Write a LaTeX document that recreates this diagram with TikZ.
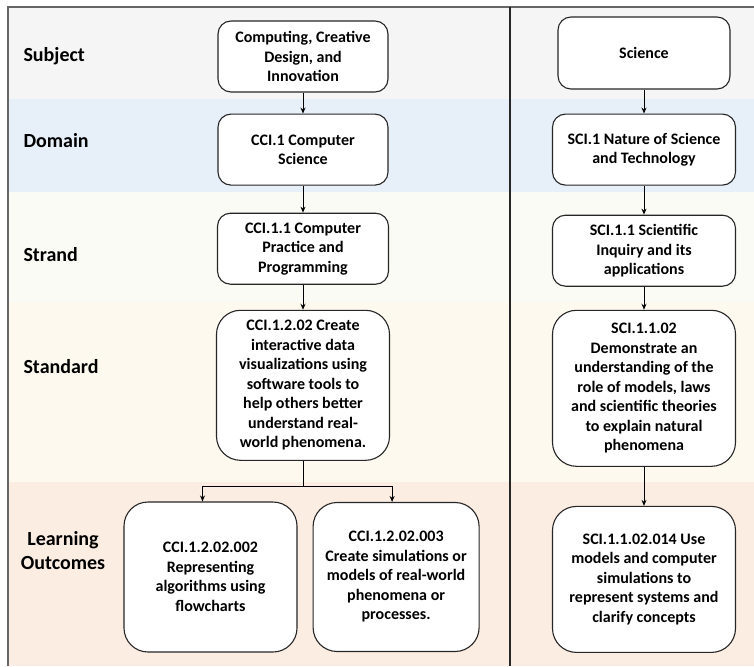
\documentclass[tikz,border=0pt]{standalone}
\usepackage{fontspec}
\setmainfont{Carlito}
\usetikzlibrary{positioning}
\usetikzlibrary{arrows.meta}

\definecolor{subjfill}{HTML}{F5F5F5}
\definecolor{domfill}{HTML}{E7EFF9}
\definecolor{strfill}{HTML}{F9FBF4}
\definecolor{stdfill}{HTML}{FEF9EE}
\definecolor{lofill}{HTML}{FCEDE3}

\begin{document}
\begin{tikzpicture}[x=1pt,y=-1pt,align=center,font=\bfseries\fontsize{16}{19.5}\selectfont,
		box/.style={rectangle,rounded corners=13pt,draw=black!85,line width=1.1pt,fill=white,inner sep=2pt},
		bigbox/.style={box,rounded corners=24pt},
		rowlabel/.style={font=\bfseries\fontsize{20}{24}\selectfont},
		arr/.style={line width=0.9pt,-{Stealth[length=6pt,width=5pt]}}]
		\useasboundingbox (0,0) rectangle (754,666);
		% bands
		\fill[subjfill] (8,7) rectangle (754,99);
		\fill[domfill] (8,99) rectangle (754,192);
		\fill[strfill] (8,192) rectangle (754,302);
		\fill[stdfill] (8,302) rectangle (754,482);
		\fill[lofill] (8,482) rectangle (754,666);
		\draw[black!60,line width=1.2pt] (8,666) -- (8,7) -- (754,7);
		\draw[black!85,line width=1.2pt] (510,7) -- (510,666);
		\node[rowlabel,anchor=west] (lsubj) at (20,56){Subject};
		\node[rowlabel,anchor=west] (ldom) at (20,141){Domain};
		\node[rowlabel,anchor=west] (lstr) at (20,255){Strand};
		\node[rowlabel,anchor=west] (lstd) at (20,367){Standard};
		\node[rowlabel] (llo) at (63,551){Learning\\Outcomes};
		% left column
		\node[box,minimum width=170pt,minimum height=71pt] (subj) at (303,56.5){Computing, Creative\\Design, and\\Innovation};
		\node[box,minimum width=170pt,minimum height=71pt] (dom)[below = 21pt of subj]{CCI.1 Computer\\Science};
		\node[box,minimum width=171pt,minimum height=71pt] (str)[below = 27pt of dom]{CCI.1.1 Computer\\Practice and\\Programming};
		\node[bigbox,minimum width=173pt,minimum height=150pt] (std)[below = 25pt of str]{CCI.1.2.02 Create\\interactive data\\visualizations using\\software tools to\\help others better\\understand real-\\world phenomena.};
		\node[bigbox,minimum width=173pt,minimum height=150pt] (loa) at (210.5,577){CCI.1.2.02.002\\Representing\\algorithms using\\flowcharts};
		\node[bigbox,minimum width=166pt,minimum height=149pt] (lob)[right = 15pt of loa]{CCI.1.2.02.003\\Create simulations or\\models of real-world\\phenomena or\\processes.};
		% right column
		\node[box,minimum width=172pt,minimum height=72pt] (sci) at (644,53){Science};
		\node[box,minimum width=183pt,minimum height=71pt] (sdom)[below = 24pt of sci]{SCI.1 Nature of Science\\and Technology};
		\node[box,minimum width=183pt,minimum height=71pt] (sstr)[below = 29pt of sdom]{SCI.1.1 Scientific\\Inquiry and its\\applications};
		\node[bigbox,minimum width=183pt,minimum height=156pt] (sstd)[below = 23pt of sstr]{SCI.1.1.02\\Demonstrate an\\understanding of the\\role of models, laws\\and scientific theories\\to explain natural\\phenomena};
		\node[bigbox,minimum width=183pt,minimum height=146pt] (slo)[below = 39pt of sstd]{SCI.1.1.02.014 Use\\models and computer\\simulations to\\represent systems and\\clarify concepts};
		\draw[arr] (subj) -- (dom);
		\draw[arr] (dom) -- (str);
		\draw[arr] (str) -- (std);
		\coordinate (split) at ([yshift=-26pt]std.south);
		\draw[line width=0.9pt] (std.south) -- (split);
		\draw[arr] (split) -| ([xshift=-8pt]loa.north);
		\draw[arr] (split) -| ([xshift=-4pt]lob.north);
		\draw[arr] (sci) -- (sdom);
		\draw[arr] (sdom) -- (sstr);
		\draw[arr] (sstr) -- (sstd);
		\draw[arr] (sstd) -- (slo);
	\end{tikzpicture}
\end{document}
